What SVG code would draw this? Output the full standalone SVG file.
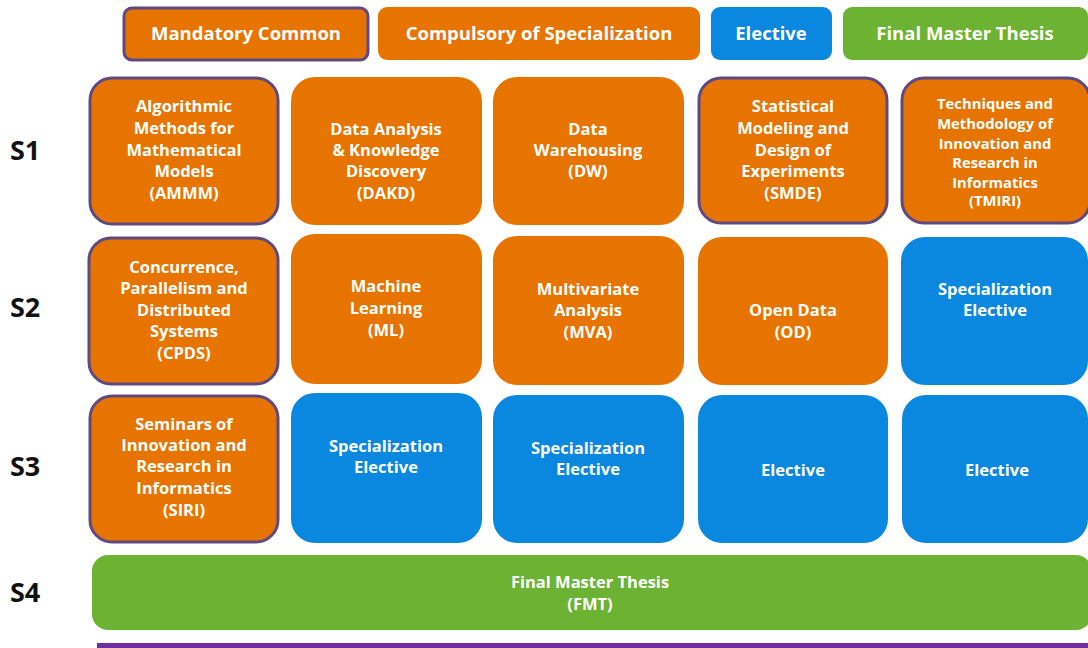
<svg xmlns="http://www.w3.org/2000/svg" width="1088" height="648" viewBox="0 0 1088 648">
<style>
.o{fill:#E87400}
.b{fill:#0A87DE}
.g{fill:#6CB233}
.m{stroke:#5E4A80;stroke-width:3}
text{font-family:"Open Sans",Lato,sans-serif;font-weight:bold;fill:#fff;text-anchor:middle}
.t{font-size:16.5px}
.s{font-size:14.8px}
.l{font-size:18.5px}
.sem{fill:#111;font-size:27px;text-anchor:start}
</style>
<rect width="1088" height="648" fill="#fff"/>
<g id="legend">
<g id="leg-mandatory"><rect class="o m" x="124" y="8" width="244" height="52" rx="8"/><text class="l" x="246" y="40">Mandatory Common</text></g>
<g id="leg-compulsory"><rect class="o" x="378" y="7" width="322" height="53" rx="9"/><text class="l" x="539" y="40">Compulsory of Specialization</text></g>
<g id="leg-elective"><rect class="b" x="711" y="7" width="121" height="53" rx="9"/><text class="l" x="771" y="40">Elective</text></g>
<g id="leg-thesis"><rect class="g" x="843" y="7" width="245" height="53" rx="9"/><text class="l" x="965" y="40">Final Master Thesis</text></g>
</g>
<g id="semesters">
<text class="sem" x="10" y="160">S1</text>
<text class="sem" x="10" y="317">S2</text>
<text class="sem" x="10" y="476">S3</text>
<text class="sem" x="10" y="602">S4</text>
</g>
<g id="AMMM"><rect class="o m" x="90" y="78" width="188" height="146" rx="22"/>
<text class="t"><tspan x="184" y="112">Algorithmic</tspan><tspan x="184" y="134">Methods for</tspan><tspan x="184" y="156">Mathematical</tspan><tspan x="184" y="177">Models</tspan><tspan x="184" y="199">(AMMM)</tspan></text></g>
<g id="DAKD"><rect class="o" x="291" y="77" width="191" height="148" rx="24"/>
<text class="t"><tspan x="386" y="135">Data Analysis</tspan><tspan x="386" y="156">&amp; Knowledge</tspan><tspan x="386" y="177">Discovery</tspan><tspan x="386" y="199">(DAKD)</tspan></text></g>
<g id="DW"><rect class="o" x="493" y="77" width="191" height="148" rx="24"/>
<text class="t"><tspan x="588" y="135">Data</tspan><tspan x="588" y="156">Warehousing</tspan><tspan x="588" y="177">(DW)</tspan></text></g>
<g id="SMDE"><rect class="o m" x="699" y="78" width="188" height="145" rx="22"/>
<text class="t"><tspan x="793" y="112">Statistical</tspan><tspan x="793" y="134">Modeling and</tspan><tspan x="793" y="156">Design of</tspan><tspan x="793" y="177">Experiments</tspan><tspan x="793" y="199">(SMDE)</tspan></text></g>
<g id="TMIRI"><rect class="o m" x="902" y="78" width="188" height="145" rx="22"/>
<text class="s"><tspan x="995" y="109">Techniques and</tspan><tspan x="995" y="129">Methodology of</tspan><tspan x="995" y="149">Innovation and</tspan><tspan x="995" y="168">Research in</tspan><tspan x="995" y="188">Informatics</tspan><tspan x="995" y="206">(TMIRI)</tspan></text></g>
<g id="CPDS"><rect class="o m" x="89" y="238" width="189" height="146" rx="22"/>
<text class="t"><tspan x="184" y="273">Concurrence,</tspan><tspan x="184" y="294">Parallelism and</tspan><tspan x="184" y="316">Distributed</tspan><tspan x="184" y="337">Systems</tspan><tspan x="184" y="359">(CPDS)</tspan></text></g>
<g id="ML"><rect class="o" x="291" y="234" width="191" height="150" rx="24"/>
<text class="t"><tspan x="386" y="292">Machine</tspan><tspan x="386" y="314">Learning</tspan><tspan x="386" y="336">(ML)</tspan></text></g>
<g id="MVA"><rect class="o" x="493" y="236" width="191" height="149" rx="24"/>
<text class="t"><tspan x="588" y="295">Multivariate</tspan><tspan x="588" y="316">Analysis</tspan><tspan x="588" y="338">(MVA)</tspan></text></g>
<g id="OD"><rect class="o" x="698" y="237" width="190" height="148" rx="24"/>
<text class="t"><tspan x="793" y="316">Open Data</tspan><tspan x="793" y="338">(OD)</tspan></text></g>
<g id="SE1"><rect class="b" x="901" y="237" width="187" height="148" rx="24"/>
<text class="t"><tspan x="995" y="295">Specialization</tspan><tspan x="995" y="316">Elective</tspan></text></g>
<g id="SIRI"><rect class="o m" x="90" y="396" width="188" height="146" rx="22"/>
<text class="t"><tspan x="184" y="430">Seminars of</tspan><tspan x="184" y="451">Innovation and</tspan><tspan x="184" y="472">Research in</tspan><tspan x="184" y="494">Informatics</tspan><tspan x="184" y="516">(SIRI)</tspan></text></g>
<g id="SE2"><rect class="b" x="291" y="393" width="191" height="150" rx="24"/>
<text class="t"><tspan x="386" y="452">Specialization</tspan><tspan x="386" y="473">Elective</tspan></text></g>
<g id="SE3"><rect class="b" x="493" y="395" width="191" height="148" rx="24"/>
<text class="t"><tspan x="588" y="454">Specialization</tspan><tspan x="588" y="475">Elective</tspan></text></g>
<g id="E1"><rect class="b" x="698" y="395" width="190" height="148" rx="24"/>
<text class="t" x="793" y="476">Elective</text></g>
<g id="E2"><rect class="b" x="902" y="395" width="186" height="148" rx="24"/>
<text class="t" x="997" y="476">Elective</text></g>
<g id="FMT"><rect class="g" x="92" y="555" width="1000" height="75" rx="16"/>
<text class="t"><tspan x="590" y="588">Final Master Thesis</tspan><tspan x="590" y="610">(FMT)</tspan></text></g>
<g id="connectors"><rect x="97" y="643" width="991" height="5" fill="#7030A0"/></g>
</svg>
